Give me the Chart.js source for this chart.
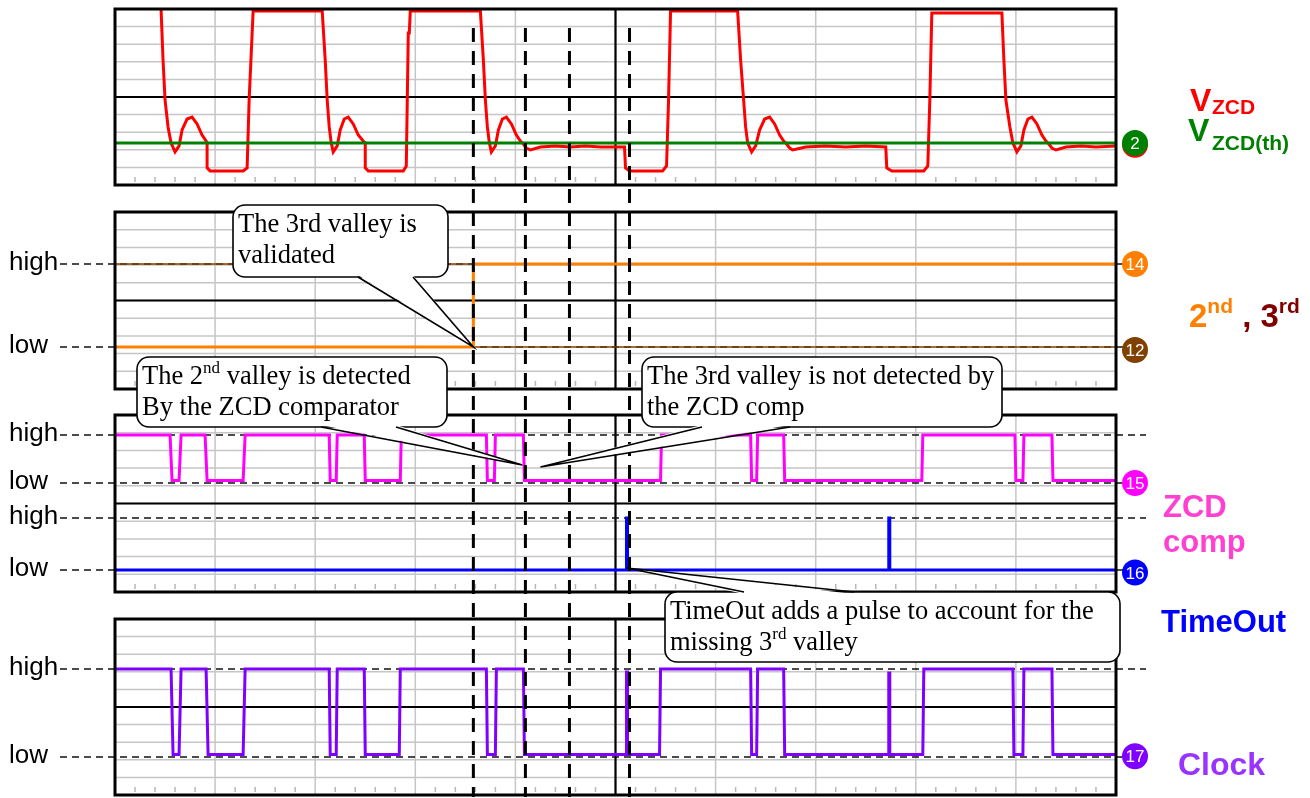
<!DOCTYPE html>
<html>
<head>
<meta charset="utf-8">
<script src="https://cdn.jsdelivr.net/npm/chart.js@4.4.1/dist/chart.umd.min.js"></script>
<style>
  html, body { margin: 0; padding: 0; background: #fff; }
  #wrap { position: relative; width: 1310px; height: 798px; }
</style>
</head>
<body>
<div id="wrap"><canvas id="scope" width="1310" height="798"></canvas></div>
<script>
// time axis: 0..1000 (10 divisions of 100), every panel is 0..10 vertical divisions

// V_ZCD (red) and its threshold (green), panel 1
const vzcdTime = [46, 48, 50, 53, 56, 60, 64, 67, 72, 77, 82, 87, 91, 92, 92, 95, 128, 132, 134, 138,
  207, 210, 212, 214, 216, 218, 222, 225, 229, 233, 238, 243, 248, 250, 250, 253, 288, 291, 293, 294, 295,
  365, 368, 370, 372, 374, 376, 380, 383, 387, 391, 396, 401, 405, 407, 411, 415, 425, 440, 455, 470, 485, 509,
  510, 514, 547, 551, 553, 555, 622, 625, 628, 630, 632, 636, 640, 644, 649, 654, 659, 664, 668, 670, 674, 677,
  690, 710, 730, 750, 770, 771, 776, 808, 812, 814, 816, 886, 888, 890, 894, 897, 901, 905, 908, 912, 916, 921,
  926, 930, 932, 936, 940, 950, 965, 980, 1000];
const vzcdDiv = [10.0, 7.10, 4.83, 3.30, 2.39, 1.88, 2.22, 3.13, 3.75, 3.86, 3.47, 2.84, 2.50, 2.39, 0.97, 0.80, 0.80, 0.97, 4.83, 9.89,
  9.89, 7.10, 4.83, 3.30, 2.39, 1.88, 2.22, 3.13, 3.75, 3.86, 3.47, 2.84, 2.50, 2.39, 0.97, 0.80, 0.80, 1.08, 8.64, 8.64, 9.89,
  9.89, 7.10, 4.83, 3.30, 2.39, 1.88, 2.22, 3.13, 3.75, 3.86, 3.47, 2.84, 2.50, 2.39, 2.10, 1.99, 2.16, 2.22, 2.16, 2.22, 2.16, 2.16,
  0.97, 0.80, 0.80, 1.08, 4.83, 9.89, 9.89, 7.10, 4.83, 3.30, 2.39, 1.88, 2.22, 3.13, 3.75, 3.86, 3.47, 2.84, 2.50, 2.39, 2.10, 1.99,
  2.16, 2.22, 2.16, 2.22, 2.16, 0.97, 0.80, 0.80, 1.08, 4.83, 9.77, 9.77, 7.10, 4.83, 3.30, 2.39, 1.88, 2.22, 3.13, 3.75, 3.86, 3.47,
  2.84, 2.50, 2.39, 2.10, 1.99, 2.16, 2.22, 2.16, 2.22];
const vthTime = [0, 1000];
const vthDiv = [2.39, 2.39];

// 2nd (orange) and 3rd (brown) valley signals, panel 2
const secondTime = [0, 358, 358, 1000];
const secondDiv = [2.37, 2.37, 7.06, 7.06];
const thirdTime = [0, 358, 358, 1000];
const thirdDiv = [7.06, 7.06, 2.37, 2.37];

// ZCD comparator (magenta) and TimeOut (blue), panel 3
const zcdTime = [0, 55, 57, 64, 66, 90, 92, 128, 130, 214, 215, 221, 222, 249, 250, 285, 286, 371, 372, 379,
  380, 408, 409, 545, 546, 635, 636, 641, 642, 668, 669, 806, 807, 899, 900, 907, 908, 936, 937, 1000];
const zcdDiv = [8.87, 8.87, 6.3, 6.3, 8.87, 8.87, 6.3, 6.3, 8.87, 8.87, 6.3, 6.3, 8.87, 8.87, 6.3, 6.3, 8.87, 8.87, 6.3, 6.3,
  8.87, 8.87, 6.3, 6.3, 8.87, 8.87, 6.3, 6.3, 8.87, 8.87, 6.3, 6.3, 8.87, 8.87, 6.3, 6.3, 8.87, 8.87, 6.3, 6.3];
const timeoutTime = [0, 511, 511, 512, 512, 773, 773, 774, 774, 1000];
const timeoutDiv = [1.24, 1.24, 4.18, 4.18, 1.24, 1.24, 4.18, 4.18, 1.24, 1.24];

// Clock (purple), panel 4
const clockTime = [0, 56, 58, 64, 66, 91, 93, 128, 130, 214, 215, 221, 222, 249, 250, 284, 285, 371, 372, 380,
  381, 408, 409, 511, 511, 512, 512, 544, 545, 635, 636, 641, 642, 668, 669, 773, 773, 774, 774, 807,
  808, 897, 898, 907, 908, 936, 937, 1000];
const clockDiv = [7.16, 7.16, 2.3, 2.3, 7.16, 7.16, 2.3, 2.3, 7.16, 7.16, 2.3, 2.3, 7.16, 7.16, 2.3, 2.3, 7.16, 7.16, 2.3, 2.3,
  7.16, 7.16, 2.3, 2.3, 6.99, 6.99, 2.3, 2.3, 7.16, 7.16, 2.3, 2.3, 7.16, 7.16, 2.3, 2.3, 6.93, 6.93, 2.3, 2.3,
  7.16, 7.16, 2.3, 2.3, 7.16, 7.16, 2.3, 2.3];

// logic level references (dashed lines + left labels)
const refAxis = ['y2', 'y2', 'y3', 'y3', 'y3', 'y3', 'y4', 'y4'];
const refLevel = [7.06, 2.37, 8.87, 6.16, 4.18, 1.24, 7.16, 2.16];
const refName = ['high', 'low', 'high', 'low', 'high', 'low', 'high', 'low'];

// dashed time markers
const markerTimes = [358, 410, 454, 514];

// channel tags at the right edge
const tagAxis = ['y1', 'y1', 'y2', 'y2', 'y3', 'y3', 'y4'];
const tagLevel = [2.28, 2.39, 7.06, 2.2, 6.16, 1.1, 2.2];
const tagText = ['4', '2', '14', '12', '15', '16', '17'];
const tagColor = ['#ff0000', '#008000', '#ff8000', '#804000', '#ff00ff', '#0000ff', '#8000ff'];

const AREA = { top: 9, bottom: 795, left: 115, right: 1116 };
const PANELS = [
  { id: 'y1', top: 9, bottom: 185 },
  { id: 'y2', top: 212, bottom: 389 },
  { id: 'y3', top: 415, bottom: 592 },
  { id: 'y4', top: 619, bottom: 795 }
];

function panelScale(p) {
  const ppu = (p.bottom - p.top) / 10;
  return {
    type: 'linear', display: false,
    min: -(AREA.bottom - p.bottom) / ppu,
    max: 10 + (p.top - AREA.top) / ppu
  };
}

function pts(t, v) { return t.map((x, i) => ({ x: x, y: v[i] })); }

const SANS = '"Liberation Sans", Arial, sans-serif';
const SERIF = '"Liberation Serif", "Times New Roman", serif';

function runs(ctx, x, y, parts, size, family, weight) {
  parts.forEach(p => {
    const s = p.sup ? Math.round(size * 0.64) : size;
    ctx.font = (weight || '') + ' ' + s + 'px ' + family;
    if (p.c) ctx.fillStyle = p.c;
    let dy = 0;
    if (p.sup) dy = -size * 0.42;
    ctx.fillText(p.t, x, y + dy);
    x += ctx.measureText(p.t).width;
  });
}

const callouts = [
  { box: [233, 205, 215, 72], base: [[358, 277], [413, 277]], tip: ['y2', 358, 2.37],
    lines: [[{ t: 'The 3rd valley is' }], [{ t: 'validated' }]] },
  { box: [137, 357, 310, 70], base: [[321, 427], [396, 427]], tip: ['y3', 407, 7.18],
    lines: [[{ t: 'The 2' }, { t: 'nd', sup: true }, { t: ' valley is detected' }], [{ t: 'By the ZCD comparator' }]] },
  { box: [642, 357, 360, 70], base: [[702, 427], [790, 427]], tip: ['y3', 425, 7.06],
    lines: [[{ t: 'The 3rd valley is not detected by' }], [{ t: 'the ZCD comp' }]] },
  { box: [665, 592, 455, 70], base: [[744, 592], [854, 592]], tip: ['y3', 511, 1.36],
    lines: [[{ t: 'TimeOut adds a pulse to account for the' }], [{ t: 'missing 3' }, { t: 'rd', sup: true }, { t: ' valley' }]] }
];

const scopePlugin = {
  id: 'scope',
  beforeDatasetsDraw(chart) {
    const ctx = chart.ctx;
    const xs = chart.scales.x;
    const L = xs.getPixelForValue(0), R = xs.getPixelForValue(1000);
    ctx.save();
    PANELS.forEach(p => {
      const ys = chart.scales[p.id];
      const T = ys.getPixelForValue(10), B = ys.getPixelForValue(0);
      ctx.strokeStyle = '#c6c6c6';
      ctx.lineWidth = 1.5;
      ctx.beginPath();
      for (let v = 1; v < 10; v++) {
        const py = ys.getPixelForValue(v);
        ctx.moveTo(L, py); ctx.lineTo(R, py);
      }
      for (let t = 100; t < 1000; t += 100) {
        const px = xs.getPixelForValue(t);
        ctx.moveTo(px, T); ctx.lineTo(px, B);
      }
      ctx.stroke();
      ctx.strokeStyle = '#b8b8b8';
      ctx.beginPath();
      for (let t = 20; t < 1000; t += 20) {
        if (t % 100 === 0) continue;
        const px = xs.getPixelForValue(t);
        ctx.moveTo(px, B - 8); ctx.lineTo(px, B - 3);
      }
      ctx.stroke();
      ctx.strokeStyle = '#000';
      ctx.lineWidth = 2.2;
      ctx.beginPath();
      const my = ys.getPixelForValue(5), mx = xs.getPixelForValue(500);
      ctx.moveTo(L, my); ctx.lineTo(R, my);
      ctx.moveTo(mx, T); ctx.lineTo(mx, B);
      ctx.stroke();
    });
    // logic level references
    ctx.setLineDash([7, 5]);
    ctx.lineWidth = 1.5;
    ctx.strokeStyle = '#111';
    refLevel.forEach((lv, i) => {
      const py = chart.scales[refAxis[i]].getPixelForValue(lv);
      ctx.beginPath(); ctx.moveTo(60, py); ctx.lineTo(1146, py); ctx.stroke();
    });
    ctx.setLineDash([]);
    ctx.fillStyle = '#000';
    ctx.font = '26px ' + SANS;
    refLevel.forEach((lv, i) => {
      const py = chart.scales[refAxis[i]].getPixelForValue(lv);
      ctx.fillText(refName[i], 9, py + 6);
    });
    ctx.restore();
  },
  afterDatasetsDraw(chart) {
    const ctx = chart.ctx;
    const xs = chart.scales.x;
    const L = xs.getPixelForValue(0), R = xs.getPixelForValue(1000);
    ctx.save();
    // panel frames
    ctx.strokeStyle = '#000';
    ctx.lineWidth = 3;
    PANELS.forEach(p => {
      const ys = chart.scales[p.id];
      const T = ys.getPixelForValue(10), B = ys.getPixelForValue(0);
      ctx.strokeRect(L, T, R - L, B - T);
    });
    // time markers
    ctx.setLineDash([14, 9]);
    ctx.lineWidth = 3;
    markerTimes.forEach(t => {
      const px = xs.getPixelForValue(t);
      ctx.beginPath(); ctx.moveTo(px, 28); ctx.lineTo(px, 797); ctx.stroke();
    });
    ctx.setLineDash([]);
    // channel tags
    tagText.forEach((txt, i) => {
      const py = chart.scales[tagAxis[i]].getPixelForValue(tagLevel[i]);
      ctx.fillStyle = tagColor[i];
      ctx.beginPath(); ctx.arc(1135, py, 13, 0, Math.PI * 2); ctx.fill();
      ctx.fillStyle = '#fff';
      ctx.font = '17px "Liberation Sans Narrow", ' + SANS;
      ctx.textAlign = 'center';
      ctx.fillText(txt, 1135, py + 6);
      ctx.textAlign = 'left';
    });
    // right-hand channel names
    runs(ctx, 1190, 111, [{ t: 'V', c: '#ff0000' }], 32, SANS, 'bold');
    runs(ctx, 1212, 114, [{ t: 'ZCD', c: '#ff0000' }], 21, SANS, 'bold');
    runs(ctx, 1188, 141, [{ t: 'V', c: '#008000' }], 32, SANS, 'bold');
    runs(ctx, 1212, 150, [{ t: 'ZCD(th)', c: '#008000' }], 21, SANS, 'bold');
    runs(ctx, 1189, 327, [{ t: '2', c: '#ff8000' }, { t: 'nd', sup: true }, { t: ' , ', c: '#800000' }, { t: '3' }, { t: 'rd', sup: true }], 33, SANS, 'bold');
    runs(ctx, 1163, 517, [{ t: 'ZCD', c: '#ff40d0' }], 31, SANS, 'bold');
    runs(ctx, 1163, 552, [{ t: 'comp', c: '#ff40d0' }], 31, SANS, 'bold');
    runs(ctx, 1161, 632, [{ t: 'TimeOut', c: '#0000ff' }], 31, SANS, 'bold');
    runs(ctx, 1178, 775, [{ t: 'Clock', c: '#9933ff' }], 32, SANS, 'bold');
    // callouts
    callouts.forEach(c => {
      const [bx, by, bw, bh] = c.box;
      const tip = [xs.getPixelForValue(c.tip[1]), chart.scales[c.tip[0]].getPixelForValue(c.tip[2])];
      const a = c.base[0], b = c.base[1];
      const inset = a[1] > by + bh / 2 ? -2 : 2;
      ctx.lineWidth = 1.6;
      ctx.strokeStyle = '#000';
      ctx.fillStyle = '#fff';
      ctx.beginPath(); ctx.roundRect(bx, by, bw, bh, 12); ctx.fill(); ctx.stroke();
      ctx.beginPath();
      ctx.moveTo(a[0], a[1] + inset); ctx.lineTo(tip[0], tip[1]); ctx.lineTo(b[0], b[1] + inset); ctx.closePath();
      ctx.fill();
      ctx.beginPath();
      ctx.moveTo(a[0], a[1]); ctx.lineTo(tip[0], tip[1]); ctx.lineTo(b[0], b[1]);
      ctx.stroke();
      ctx.fillStyle = '#000';
      c.lines.forEach((ln, i) => runs(ctx, bx + 5, by + 27 + i * 31, ln, 26.5, SERIF, ''));
    });
    ctx.restore();
  }
};

function trace(data, axis, color, width) {
  return {
    data: data, yAxisID: axis, borderColor: color, borderWidth: width,
    pointRadius: 0, tension: 0, fill: false
  };
}

new Chart(document.getElementById('scope'), {
  type: 'line',
  data: {
    datasets: [
      trace(pts(vthTime, vthDiv), 'y1', '#008000', 3),
      trace(pts(vzcdTime, vzcdDiv), 'y1', '#ff0000', 3),
      trace(pts(secondTime, secondDiv), 'y2', '#ff8000', 3),
      trace(pts(thirdTime, thirdDiv), 'y2', '#804000', 1.5),
      trace(pts(timeoutTime, timeoutDiv), 'y3', '#0000ff', 3),
      trace(pts(zcdTime, zcdDiv), 'y3', '#ff00ff', 3),
      trace(pts(clockTime, clockDiv), 'y4', '#8000ff', 3)
    ]
  },
  options: {
    responsive: false,
    maintainAspectRatio: false,
    animation: false,
    events: [],
    layout: { padding: { left: AREA.left, right: 1310 - AREA.right, top: AREA.top, bottom: 798 - AREA.bottom } },
    plugins: { legend: { display: false }, tooltip: { enabled: false } },
    scales: {
      x: { type: 'linear', display: false, min: 0, max: 1000 },
      y1: panelScale(PANELS[0]),
      y2: panelScale(PANELS[1]),
      y3: panelScale(PANELS[2]),
      y4: panelScale(PANELS[3])
    }
  },
  plugins: [scopePlugin]
});
</script>
</body>
</html>
